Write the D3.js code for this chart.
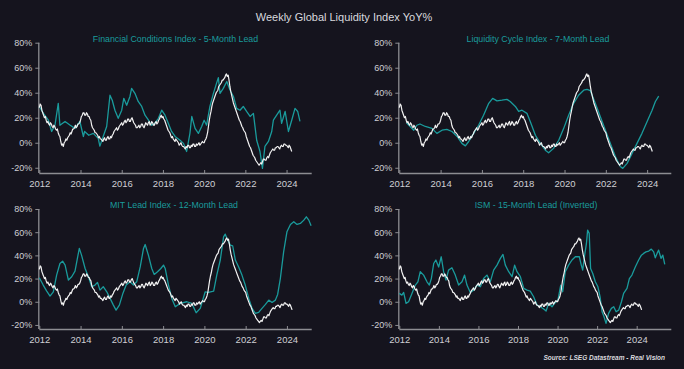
<!DOCTYPE html>
<html><head><meta charset="utf-8">
<script src="https://cdn.jsdelivr.net/npm/d3@7"></script>
<style>html,body{margin:0;padding:0;background:#15141e;}svg{display:block}</style>
</head><body>
<svg id="c" width="684" height="369"></svg>
<script>
// ---- Data ----
const chartTitle = "Weekly Global Liquidity Index YoY%";
const sourceText = "Source: LSEG Datastream - Real Vision";
const panelTitles = ["Financial Conditions Index - 5-Month Lead", "Liquidity Cycle Index - 7-Month Lead", "MIT Lead Index - 12-Month Lead", "ISM - 15-Month Lead (Inverted)"];
const yTicks = [-20, 0, 20, 40, 60, 80];
const xTicks = [2012, 2014, 2016, 2018, 2020, 2022, 2024];

// Global liquidity YoY%, twice a month from Jan 2012
const liquidityStart = 2012;
const liquidityValues = [
  28,31, 30,26, 24,22, 20,21, 18,16, 17,15, 14,16, 15,13, 12,14, 13,11, 10,11, 8,6,
  5,1, -2,-1, -3,0, 1,3, 2,4, 5,6, 8,7, 9,11, 11,12, 14,12, 13,15, 15,16,
  18,21, 22,24, 24,22, 22,24, 23,21, 21,19, 18,14, 12,11, 10,8, 8,7, 6,4, 5,3,
  3,2, 1,3, 4,2, 2,4, 5,3, 3,5, 4,6, 7,9, 10,11, 12,10, 11,13, 14,15,
  16,14, 15,17, 18,16, 17,19, 19,17, 17,19, 20,18, 16,15, 14,12, 12,13, 14,12, 13,15,
  15,13, 12,14, 16,15, 14,16, 17,14, 15,17, 16,14, 14,16, 17,15, 16,18, 19,21, 22,20,
  21,19, 18,16, 14,12, 10,9, 8,6, 4,5, 3,2, 1,3, 2,1, 0,-2, -1,0, -2,-3,
  -3,-4, -5,-3, -4,-2, -2,-4, -4,-2, -3,-1, -1,-3, -3,-1, -2,-1, 0,-2, -1,0, 1,0,
  0,2, 3,5, 8,13, 18,22, 25,29, 32,34, 36,38, 40,41, 42,45, 46,47, 48,50, 50,51,
  52,54, 55,53, 54,50, 45,41, 38,35, 32,30, 28,26, 24,22, 20,18, 17,15, 13,12, 10,9,
  8,5, 3,1, -1,-3, -4,-6, -8,-10, -11,-12, -14,-15, -16,-17, -18,-17, -16,-17, -15,-13, -13,-14,
  -14,-12, -11,-12, -10,-8, -7,-6, -5,-6, -6,-4, -4,-3, -3,-4, -5,-3, -2,-3, -3,-1, -1,-2,
  -2,-3, -4,-2, -3,-5, -7
];

const fciYears = [2012.0, 2012.2, 2012.44, 2012.6, 2012.76, 2012.92, 2013.0, 2013.25, 2013.5, 2013.73, 2013.97, 2014.14, 2014.2, 2014.4, 2014.62, 2014.86, 2014.94, 2015.1, 2015.27, 2015.43, 2015.54, 2015.67, 2015.83, 2016.0, 2016.1, 2016.24, 2016.4, 2016.48, 2016.64, 2016.8, 2016.97, 2017.13, 2017.3, 2017.45, 2017.6, 2017.78, 2017.94, 2018.1, 2018.26, 2018.42, 2018.59, 2018.83, 2019.0, 2019.15, 2019.31, 2019.4, 2019.56, 2019.72, 2019.88, 2020.0, 2020.12, 2020.28, 2020.45, 2020.6, 2020.69, 2020.77, 2020.93, 2021.1, 2021.26, 2021.42, 2021.58, 2021.74, 2021.9, 2022.06, 2022.23, 2022.39, 2022.55, 2022.71, 2022.83, 2022.95, 2023.12, 2023.28, 2023.36, 2023.52, 2023.68, 2023.76, 2023.93, 2024.09, 2024.25, 2024.41, 2024.54, 2024.65];
const fciValues = [29, 23.5, 18, 9, 14, 31.5, 14, 17, 14, 11.5, 17, 5, 9, 6, 7.5, 3.5, -2.7, 5, 13, 38, 34, 26, 19.5, 26, 35.5, 30, 37, 43.5, 39.5, 33, 29, 22, 18, 14, 15.5, 19.5, 26, 22, 15.5, 9, 5, 2, -0.5, -7, 7.5, 21, 11.5, 7.5, 13, 18, 14, 29, 39.5, 47.5, 52, 39.5, 43.5, 49, 42, 37, 27.5, 26, 29, 25, 21, 23.5, 2, -7, -20.5, -3, 1, 9, 18, 22, 26, 15.5, 25, 9, 18, 27.5, 25, 17];

const lciYears = [2012.35, 2012.7, 2012.85, 2013.0, 2013.26, 2013.58, 2013.82, 2014.07, 2014.3, 2014.55, 2014.8, 2015.03, 2015.2, 2015.36, 2015.6, 2015.84, 2016.08, 2016.33, 2016.52, 2016.73, 2016.97, 2017.21, 2017.37, 2017.62, 2017.78, 2017.94, 2018.18, 2018.34, 2018.59, 2018.83, 2019.07, 2019.23, 2019.47, 2019.72, 2019.96, 2020.2, 2020.44, 2020.68, 2020.93, 2021.09, 2021.25, 2021.49, 2021.73, 2021.98, 2022.22, 2022.46, 2022.7, 2022.82, 2023.03, 2023.27, 2023.51, 2023.75, 2024.0, 2024.24, 2024.4, 2024.56];
const lciValues = [16, 10, 14, 15, 13, 11.5, 7.5, 10, 10.7, 9, 5, -0.5, -2.5, 1, 7.5, 14, 22, 31.5, 35.5, 33.5, 34, 34.7, 33, 29, 25, 26, 23.5, 17, 6, -0.5, -6, -8, -4.5, 2, 11.5, 22, 31.5, 38, 42, 42.7, 41.6, 31.5, 21, 10, -0.5, -11, -19, -20.5, -16.5, -8.5, -0.5, 7.5, 17, 26, 33, 37.3];

const mitYears = [2012.0, 2012.19, 2012.36, 2012.52, 2012.68, 2012.84, 2013.0, 2013.13, 2013.25, 2013.41, 2013.57, 2013.73, 2013.86, 2013.94, 2014.05, 2014.22, 2014.38, 2014.54, 2014.7, 2014.82, 2014.94, 2015.1, 2015.27, 2015.43, 2015.59, 2015.72, 2015.88, 2016.05, 2016.21, 2016.4, 2016.56, 2016.72, 2016.89, 2017.05, 2017.13, 2017.29, 2017.45, 2017.57, 2017.73, 2017.89, 2018.02, 2018.1, 2018.26, 2018.42, 2018.59, 2018.83, 2019.15, 2019.39, 2019.6, 2019.8, 2020.04, 2020.2, 2020.45, 2020.6, 2020.77, 2020.93, 2021.01, 2021.13, 2021.26, 2021.37, 2021.5, 2021.66, 2021.82, 2021.98, 2022.15, 2022.31, 2022.47, 2022.63, 2022.79, 2022.96, 2023.12, 2023.28, 2023.44, 2023.55, 2023.68, 2023.84, 2024.0, 2024.17, 2024.33, 2024.49, 2024.65, 2024.82, 2024.94, 2025.06, 2025.17];
const mitValues = [20.7, 14.4, 9.2, 4.9, 8.6, 23, 33, 35, 31.6, 18.7, 21.6, 26.4, 38.8, 46, 40, 28.7, 21.6, 12.9, 14.4, 16.7, 10, 13, 8.6, 2.9, -2.9, -7.2, -2.9, 7.2, 14.4, 17.2, 14.4, 17.2, 30, 46, 49.4, 40, 28.7, 23.6, 25.9, 28.7, 31.6, 28.7, 14.4, 2.9, -4.3, -1.4, 0, -1.4, -9.5, -5.7, 8.6, 8, 9.2, 23, 36, 56, 58.3, 53, 48.9, 48.3, 36, 30, 23, 14.4, 2.9, -5.7, -10, -9.2, -5.7, -2.3, 1.4, -0.6, 1.4, 6.3, 20, 43, 60.3, 66.7, 69, 66.7, 67.5, 70.4, 73.3, 70.4, 65.5];

const ismYears = [2012.0, 2012.13, 2012.22, 2012.34, 2012.47, 2012.64, 2012.81, 2012.94, 2013.06, 2013.23, 2013.4, 2013.52, 2013.62, 2013.74, 2013.85, 2013.99, 2014.12, 2014.24, 2014.36, 2014.49, 2014.66, 2014.83, 2015.0, 2015.17, 2015.3, 2015.42, 2015.59, 2015.76, 2015.93, 2016.1, 2016.26, 2016.43, 2016.6, 2016.77, 2016.94, 2017.11, 2017.24, 2017.36, 2017.53, 2017.7, 2017.83, 2017.95, 2018.12, 2018.29, 2018.46, 2018.62, 2018.79, 2018.96, 2019.13, 2019.3, 2019.42, 2019.55, 2019.72, 2019.89, 2020.02, 2020.16, 2020.26, 2020.39, 2020.56, 2020.73, 2020.9, 2021.1, 2021.2, 2021.27, 2021.37, 2021.46, 2021.52, 2021.6, 2021.67, 2021.78, 2021.91, 2022.04, 2022.15, 2022.25, 2022.35, 2022.45, 2022.58, 2022.72, 2022.84, 2022.96, 2023.09, 2023.23, 2023.34, 2023.51, 2023.63, 2023.76, 2023.93, 2024.1, 2024.24, 2024.35, 2024.47, 2024.61, 2024.74, 2024.86, 2024.94, 2025.03, 2025.11, 2025.23, 2025.32, 2025.42];
const ismValues = [7.2, 5.7, 8, -1.4, 0, 7.2, 14.4, 17.2, 25.9, 23, 17.2, 14.4, 20, 33, 36, 30, 38.8, 25.9, 18.7, 27.3, 29.3, 23, 14.4, 17.2, 23, 14.4, 8, 10, 14.4, 12.9, 20, 23, 17.2, 27.3, 31.6, 37.4, 40.8, 31.6, 25.9, 21.6, 31.6, 25.9, 21.6, 11.5, 10, 9.2, 4.3, -2.9, -4.3, -6.3, -8, -1.4, -4.3, -0.6, 1.4, 14.4, 8.6, 25.9, 31.6, 36, 38.8, 38.8, 31.6, 27.3, 40.2, 50.3, 61.8, 59, 28.7, 24.4, 17.2, 12.9, 4.3, -8.6, -12.9, -18.7, -10, -5.7, -4.3, -8.6, -7.2, 0, 7.2, 11.5, 20, 23, 30, 36, 40.2, 41.7, 43, 43.7, 45.4, 43, 37.9, 41.7, 44.5, 37.4, 40.2, 32.2];

// ---- Rendering ----
const svg = d3.select("#c");
const W = 684, H = 369;
const BG = "#15141e", TEAL = "#1a9b9c", WHITE = "#f2f2f2", AXIS = "#8d8d92", LABEL = "#cfcfd4";
const FONT = "Liberation Sans, Arial, sans-serif";

svg.append("rect").attr("width", W).attr("height", H).attr("fill", BG);

svg.append("text").attr("x", 344).attr("y", 17).attr("text-anchor", "middle")
  .attr("dominant-baseline", "central").attr("font-family", FONT).attr("font-size", 11)
  .attr("fill", "#d9d9de").text(chartTitle);

svg.append("text").attr("x", 665).attr("y", 357).attr("text-anchor", "end")
  .attr("dominant-baseline", "central").attr("font-family", FONT).attr("font-size", 6.5)
  .attr("font-style", "italic").attr("font-weight", "bold").attr("fill", "#dadade").text(sourceText);

const liquidity = liquidityValues.map((v, i) => ({x: liquidityStart + i / 24, y: v}));
const zip = (xs, ys) => xs.map((x, i) => ({x, y: ys[i]}));

const panels = [
  {title: panelTitles[0], lead: zip(fciYears, fciValues), x0: 39.3, x1: 311.7, xMax: 2025.22, yTop: 42.7, yAxis: 173, yMin: -24.2, titleX: 175.5, titleY: 39},
  {title: panelTitles[1], lead: zip(lciYears, lciValues), x0: 399.3, x1: 671.3, xMax: 2025.17, yTop: 42.7, yAxis: 173, yMin: -24.2, titleX: 538, titleY: 39},
  {title: panelTitles[2], lead: zip(mitYears, mitValues), x0: 39.3, x1: 311.7, xMax: 2025.2, yTop: 209, yAxis: 329, yMin: -23.5, titleX: 174, titleY: 205},
  {title: panelTitles[3], lead: zip(ismYears, ismValues), x0: 399.3, x1: 671.3, xMax: 2025.75, yTop: 209, yAxis: 329, yMin: -23.5, titleX: 536, titleY: 204.5}
];

panels.forEach(p => {
  const x = d3.scaleLinear().domain([2012, p.xMax]).range([p.x0, p.x1]);
  const y = d3.scaleLinear().domain([p.yMin, 80]).range([p.yAxis, p.yTop]);
  const g = svg.append("g");

  const ya = g.append("g").attr("transform", `translate(${p.x0},0)`)
    .call(d3.axisLeft(y).tickValues(yTicks).tickSize(4).tickPadding(3).tickFormat(d => d + "%"));
  ya.select(".domain").attr("d", `M-0.5,${y(80)}V${p.yAxis}`).attr("stroke", AXIS).attr("stroke-width", 1.3);
  ya.selectAll(".tick line").attr("stroke", AXIS).attr("stroke-width", 1);
  ya.selectAll(".tick text").attr("fill", LABEL).attr("font-family", FONT).attr("font-size", 9);

  const xa = g.append("g").attr("transform", `translate(0,${p.yAxis})`)
    .call(d3.axisBottom(x).tickValues(xTicks).tickSize(-3).tickPadding(7).tickFormat(d3.format("d")));
  xa.select(".domain").attr("d", `M${p.x0},0.5H${p.x1}`).attr("stroke", AXIS).attr("stroke-width", 1.5);
  xa.selectAll(".tick line").attr("stroke", AXIS).attr("stroke-width", 1);
  xa.selectAll(".tick text").attr("fill", LABEL).attr("font-family", FONT).attr("font-size", 9.5);

  const line = d3.line().x(d => x(d.x)).y(d => y(d.y));
  g.append("path").datum(p.lead).attr("d", line).attr("fill", "none")
    .attr("stroke", TEAL).attr("stroke-width", 1.3).attr("stroke-linejoin", "round");
  g.append("path").datum(liquidity).attr("d", line).attr("fill", "none")
    .attr("stroke", WHITE).attr("stroke-width", 1.2).attr("stroke-linejoin", "round");

  g.append("text").attr("x", p.titleX).attr("y", p.titleY).attr("text-anchor", "middle")
    .attr("dominant-baseline", "central").attr("font-family", FONT).attr("font-size", 8.8)
    .attr("fill", TEAL).text(p.title);
});
</script>
</body></html>
